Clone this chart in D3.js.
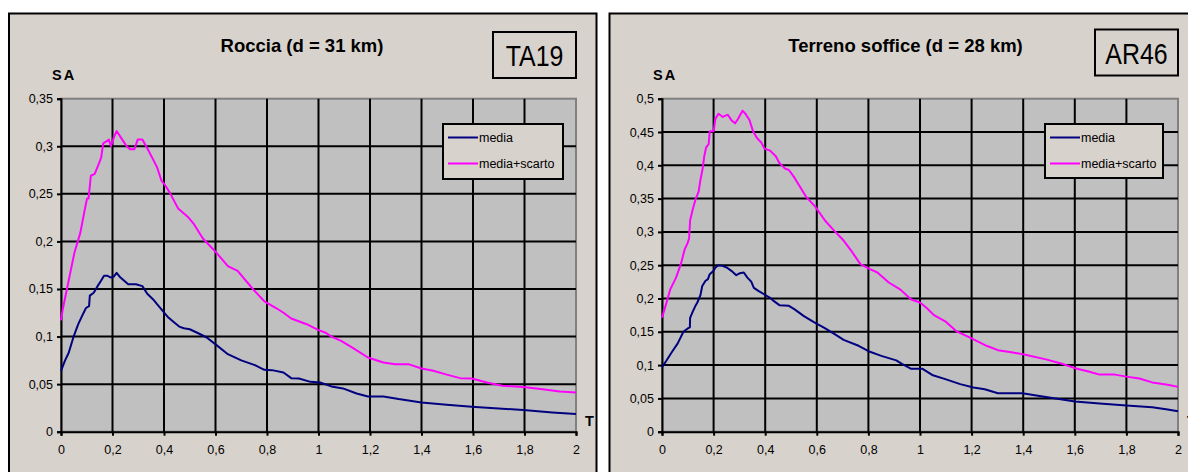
<!DOCTYPE html>
<html><head><meta charset="utf-8">
<script src="https://cdn.jsdelivr.net/npm/d3@7"></script>
<style>html,body{margin:0;padding:0;background:#fff;}svg{display:block;}</style>
</head><body>
<svg id="chart" width="1188" height="472"></svg>
<script>
// ---------- DATA ----------
const xTicks = [0,0.2,0.4,0.6,0.8,1,1.2,1.4,1.6,1.8,2];
const xTickLabels = ["0","0,2","0,4","0,6","0,8","1","1,2","1,4","1,6","1,8","2"];
const yTicksRoccia = [0,0.05,0.1,0.15,0.2,0.25,0.3,0.35];
const yTickLabelsRoccia = ["0","0,05","0,1","0,15","0,2","0,25","0,3","0,35"];
const yTicksSoffice = [0,0.05,0.1,0.15,0.2,0.25,0.3,0.35,0.4,0.45,0.5];
const yTickLabelsSoffice = ["0","0,05","0,1","0,15","0,2","0,25","0,3","0,35","0,4","0,45","0,5"];
const seriesNames = ["media","media+scarto"];

const rocciaMediaT = [0,0.015,0.03,0.049,0.067,0.082,0.097,0.109,0.112,0.127,0.142,0.156,0.167,0.179,0.194,0.205,0.216,0.231,0.261,0.291,0.316,0.335,0.358,0.373,0.395,0.417,0.44,0.459,0.477,0.5,0.529,0.566,0.604,0.648,0.7,0.753,0.79,0.82,0.864,0.894,0.924,0.969,1.006,1.05,1.095,1.148,1.192,1.252,1.311,1.4,1.498,1.595,1.699,1.796,1.908,2.0];
const rocciaMediaSA = [0.064,0.0745,0.083,0.1,0.113,0.1217,0.13,0.132,0.143,0.146,0.153,0.159,0.164,0.164,0.162,0.163,0.167,0.162,0.155,0.155,0.153,0.145,0.139,0.134,0.127,0.12,0.1147,0.1105,0.1087,0.1077,0.104,0.099,0.091,0.0815,0.075,0.07,0.065,0.0647,0.0622,0.0563,0.056,0.0524,0.0517,0.0476,0.0455,0.0402,0.037,0.037,0.0343,0.0308,0.0283,0.0262,0.0245,0.0227,0.0203,0.0185];
const rocciaScartoT = [0,0.007,0.052,0.075,0.092,0.101,0.107,0.116,0.131,0.146,0.156,0.164,0.175,0.186,0.194,0.205,0.216,0.238,0.255,0.268,0.285,0.298,0.316,0.335,0.358,0.373,0.39,0.402,0.425,0.455,0.492,0.514,0.551,0.604,0.648,0.686,0.745,0.79,0.835,0.864,0.894,0.954,0.998,1.028,1.05,1.088,1.133,1.192,1.252,1.297,1.349,1.4,1.446,1.498,1.55,1.595,1.654,1.714,1.796,1.878,1.937,2.0];
const rocciaScartoSA = [0.117,0.129,0.188,0.209,0.233,0.245,0.245,0.269,0.271,0.281,0.288,0.303,0.305,0.307,0.3,0.309,0.316,0.307,0.3,0.297,0.297,0.307,0.307,0.298,0.286,0.278,0.264,0.26,0.25,0.2345,0.226,0.219,0.203,0.188,0.174,0.169,0.15,0.137,0.13,0.125,0.119,0.113,0.107,0.104,0.1,0.0955,0.088,0.078,0.0727,0.071,0.071,0.0664,0.064,0.06,0.0563,0.056,0.0517,0.0483,0.047,0.0444,0.0423,0.0413];

const sofficeMediaT = [0,0.0175,0.039,0.061,0.083,0.102,0.108,0.109,0.12,0.131,0.137,0.149,0.156,0.168,0.178,0.185,0.2,0.207,0.219,0.234,0.251,0.269,0.288,0.302,0.317,0.331,0.346,0.356,0.375,0.397,0.419,0.434,0.455,0.492,0.514,0.55,0.587,0.631,0.674,0.704,0.762,0.806,0.85,0.908,0.93,0.966,1.01,1.047,1.098,1.156,1.207,1.251,1.302,1.397,1.463,1.507,1.601,1.696,1.8,1.9,1.96,2.0];
const sofficeMediaSA = [0.097,0.107,0.12,0.1327,0.15,0.1556,0.1566,0.171,0.181,0.19,0.194,0.205,0.2187,0.2263,0.229,0.2365,0.2415,0.2466,0.25,0.249,0.2466,0.2415,0.235,0.238,0.239,0.2314,0.2253,0.216,0.211,0.206,0.201,0.196,0.19,0.189,0.1837,0.1735,0.1648,0.1556,0.1454,0.1378,0.129,0.12,0.1138,0.1071,0.102,0.0944,0.0944,0.0852,0.079,0.0714,0.0663,0.0638,0.0577,0.0577,0.0536,0.051,0.0454,0.0423,0.0393,0.0367,0.0332,0.0306];
const sofficeScartoT = [0,0.0146,0.022,0.032,0.054,0.073,0.088,0.098,0.105,0.109,0.12,0.131,0.142,0.149,0.158,0.1635,0.171,0.181,0.185,0.2,0.207,0.219,0.236,0.255,0.269,0.283,0.295,0.312,0.324,0.339,0.353,0.368,0.385,0.397,0.419,0.441,0.455,0.477,0.492,0.514,0.558,0.594,0.631,0.66,0.704,0.733,0.769,0.806,0.835,0.879,0.923,0.966,1.0,1.025,1.054,1.098,1.142,1.2,1.258,1.302,1.36,1.404,1.492,1.55,1.601,1.653,1.696,1.755,1.8,1.85,1.9,1.96,2.0];
const sofficeScartoSA = [0.171,0.19,0.2,0.2137,0.231,0.2516,0.274,0.282,0.29,0.3175,0.335,0.35,0.3605,0.378,0.396,0.413,0.427,0.432,0.451,0.451,0.47,0.4774,0.4726,0.476,0.4678,0.463,0.47,0.482,0.477,0.468,0.451,0.441,0.434,0.425,0.422,0.4137,0.4035,0.395,0.393,0.381,0.353,0.338,0.3175,0.305,0.287,0.272,0.2516,0.244,0.239,0.224,0.2137,0.1985,0.194,0.186,0.175,0.1658,0.1505,0.14,0.129,0.1224,0.1189,0.1158,0.1082,0.102,0.0954,0.0903,0.0857,0.0857,0.0827,0.08,0.074,0.0704,0.0673];

// ---------- DRAW ----------
const svg = d3.select("#chart");
const FONT = "'Liberation Sans', Arial, sans-serif";
const panelFill = "#D8D2CC";
const plotFill = "#C0C0C0";
const colMedia = "#000080", colScarto = "#FF00FF";

function drawPanel(cfg) {
  const g = svg.append("g");
  // panel background + border
  g.append("rect").attr("x", cfg.px0).attr("y", 13.5).attr("width", cfg.px1 - cfg.px0).attr("height", 500)
    .attr("fill", panelFill).attr("stroke", "#000").attr("stroke-width", 2);

  const x = d3.scaleLinear().domain([0, 2]).range([cfg.l, cfg.r]);
  const y = d3.scaleLinear().domain([0, cfg.ymax]).range([431.7, 98.7]);

  // plot area
  g.append("rect").attr("x", cfg.l).attr("y", y(cfg.ymax)).attr("width", cfg.r - cfg.l).attr("height", y(0) - y(cfg.ymax))
    .attr("fill", plotFill).attr("stroke", "#808080").attr("stroke-width", 2);

  // gridlines
  g.append("g").selectAll("line").data(cfg.yTicks.filter(v => v > 0 && v < cfg.ymax)).join("line")
    .attr("x1", cfg.l).attr("x2", cfg.r).attr("y1", d => y(d)).attr("y2", d => y(d))
    .attr("stroke", "#000").attr("stroke-width", 2);
  g.append("g").selectAll("line").data(xTicks.filter(v => v > 0 && v < 2)).join("line")
    .attr("y1", y(0)).attr("y2", y(cfg.ymax)).attr("x1", d => x(d)).attr("x2", d => x(d))
    .attr("stroke", "#000").attr("stroke-width", 2);

  // axes
  const ya = d3.axisLeft(y).tickValues(cfg.yTicks).tickFormat((d, i) => cfg.yLabels[i]).tickSize(4).tickPadding(4);
  const yg = g.append("g").attr("transform", `translate(${cfg.l},0)`).call(ya);
  const xa = d3.axisBottom(x).tickValues(xTicks).tickFormat((d, i) => xTickLabels[i]).tickSize(4).tickPadding(9);
  const xg = g.append("g").attr("transform", `translate(0,${y(0)})`).call(xa);
  [yg, xg].forEach(a => {
    a.select(".domain").attr("stroke", "#000").attr("stroke-width", 2);
    a.selectAll(".tick line").attr("stroke", "#000").attr("stroke-width", 2);
    a.selectAll("text").attr("font-family", FONT).attr("font-size", 12.5).attr("fill", "#000");
  });

  // series
  const line = d3.line().x(d => x(d[0])).y(d => y(d[1]));
  const mk = (T, S) => T.map((t, i) => [t, S[i]]);
  g.append("path").datum(mk(cfg.mediaT, cfg.mediaSA)).attr("d", line)
    .attr("fill", "none").attr("stroke", colMedia).attr("stroke-width", 2).attr("stroke-linejoin", "round");
  g.append("path").datum(mk(cfg.scartoT, cfg.scartoSA)).attr("d", line)
    .attr("fill", "none").attr("stroke", colScarto).attr("stroke-width", 2).attr("stroke-linejoin", "round");

  // title
  g.append("text").attr("x", cfg.titleX).attr("y", 52).attr("text-anchor", "middle")
    .attr("font-family", FONT).attr("font-weight", "bold").attr("font-size", 18.5).text(cfg.title);
  // SA label
  g.append("text").attr("x", cfg.l - 9).attr("y", 80).attr("font-family", FONT).attr("font-weight", "bold")
    .attr("font-size", 14.5).attr("letter-spacing", 2).text("SA");
  // T label
  g.append("text").attr("x", cfg.r + 9).attr("y", 426).attr("font-family", FONT).attr("font-weight", "bold")
    .attr("font-size", 14.5).text("T");

  // code box
  g.append("rect").attr("x", cfg.box[0]).attr("y", cfg.box[1]).attr("width", cfg.box[2]).attr("height", cfg.box[3])
    .attr("fill", "none").attr("stroke", "#000").attr("stroke-width", 2);
  g.append("text").attr("transform", `translate(${cfg.box[0] + cfg.box[2] / 2},${cfg.box[1] + cfg.box[3] - 12}) scale(0.86,1)`)
    .attr("text-anchor", "middle").attr("font-family", FONT).attr("font-size", 29).text(cfg.code);

  // legend
  const lg = g.append("g").attr("transform", `translate(${cfg.leg[0]},${cfg.leg[1]})`);
  lg.append("rect").attr("width", cfg.leg[2]).attr("height", cfg.leg[3]).attr("fill", panelFill)
    .attr("stroke", "#000").attr("stroke-width", 2);
  [colMedia, colScarto].forEach((c, i) => {
    const yy = 13.5 + i * 26;
    lg.append("line").attr("x1", 5).attr("x2", 35).attr("y1", yy).attr("y2", yy).attr("stroke", c).attr("stroke-width", 2);
    lg.append("text").attr("x", 36).attr("y", yy + 4.5).attr("font-family", FONT).attr("font-size", 12.5).text(seriesNames[i]);
  });
}

drawPanel({
  px0: 9, px1: 596.5, l: 61, r: 576, ymax: 0.35,
  yTicks: yTicksRoccia, yLabels: yTickLabelsRoccia,
  mediaT: rocciaMediaT, mediaSA: rocciaMediaSA, scartoT: rocciaScartoT, scartoSA: rocciaScartoSA,
  title: "Roccia (d = 31 km)", titleX: 302, code: "TA19",
  box: [493, 32, 83, 46], leg: [443, 124, 120, 55]
});
drawPanel({
  px0: 609.5, px1: 1200, l: 662, r: 1178, ymax: 0.5,
  yTicks: yTicksSoffice, yLabels: yTickLabelsSoffice,
  mediaT: sofficeMediaT, mediaSA: sofficeMediaSA, scartoT: sofficeScartoT, scartoSA: sofficeScartoSA,
  title: "Terreno soffice (d = 28 km)", titleX: 905.5, code: "AR46",
  box: [1095, 29.5, 83, 46], leg: [1045, 124, 118, 54]
});
</script>
</body></html>
